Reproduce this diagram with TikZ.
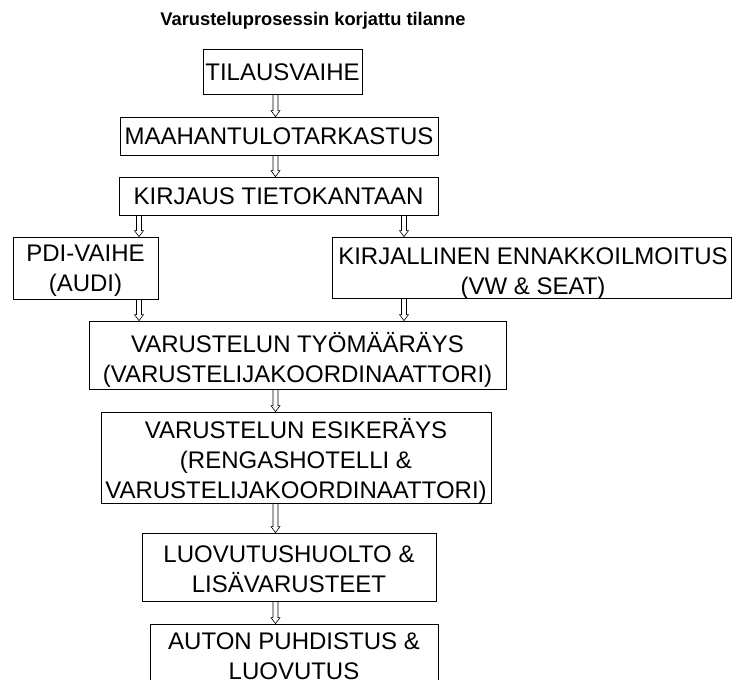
\documentclass[tikz,border=0pt]{standalone}
\usepackage{fontspec}
\setmainfont{Liberation Sans}
\usetikzlibrary{calc}
\tikzset{
  box/.style={draw=black, line width=0.8pt, rectangle, inner sep=0pt},
  txt/.style={inner sep=0pt, align=center, font=\fontsize{24}{30}\selectfont},
  hollow/.style={draw=black, line width=0.6pt,
    to path={let \p1=(\tikztostart), \p2=(\tikztotarget) in
      (\x1-2.5pt,\y1) -- (\x1-2.5pt,\y2+6pt) -- (\x1-4.5pt,\y2+6pt) -- (\x1,\y2)
      -- (\x1+4.5pt,\y2+6pt) -- (\x1+2.5pt,\y2+6pt) -- (\x1+2.5pt,\y1)}},
  titlestyle/.style={font=\fontsize{18.3}{22}\selectfont\bfseries, inner sep=0pt}
}
\begin{document}
\begin{tikzpicture}[x=1pt, y=-1pt]
\clip (0,0) rectangle (732,680);
\fill[white] (0,0) rectangle (732,680);
\node[titlestyle, anchor=base] (title) at (313,26) {Varusteluprosessin korjattu tilanne};
% boxes
\node[box, minimum width=159pt, minimum height=45pt] (tilaus) at (282.5,71.5) {};
\node[box, minimum width=318pt, minimum height=38pt] (maah) at (279,136) {};
\node[box, minimum width=319pt, minimum height=38pt] (kirjaus) at (278.5,196) {};
\node[box, minimum width=145pt, minimum height=62pt] (pdi) at (85.5,268) {};
\node[box, minimum width=399pt, minimum height=61pt] (kirj) at (531.5,267.5) {};
\node[box, minimum width=417pt, minimum height=68pt] (tyo) at (297.5,355) {};
\node[box, minimum width=390pt, minimum height=91pt] (esik) at (296,457.5) {};
\node[box, minimum width=294pt, minimum height=68pt] (luov) at (289,567) {};
\node[box, minimum width=288pt, minimum height=70pt] (auton) at (294,659) {};
% texts
\node[txt] (tilaus-t) at (282.5,72.5) {TILAUSVAIHE};
\node[txt] (maah-t) at (279,136) {MAAHANTULOTARKASTUS};
\node[txt] (kirjaus-t) at (278.5,196.5) {KIRJAUS TIETOKANTAAN};
\node[txt] (pdi-t) at (85.5,271) {PDI-VAIHE\\(AUDI)};
\node[txt] (kirj-t) at (533,274) {KIRJALLINEN ENNAKKOILMOITUS\\(VW \& SEAT)};
\node[txt] (tyo-t) at (297.5,360) {VARUSTELUN TYÖMÄÄRÄYS\\(VARUSTELIJAKOORDINAATTORI)};
\node[txt] (esik-t) at (296,461) {VARUSTELUN ESIKERÄYS\\(RENGASHOTELLI \&\\VARUSTELIJAKOORDINAATTORI)};
\node[txt] (luov-t) at (289,569) {LUOVUTUSHUOLTO \&\\LISÄVARUSTEET};
\node[txt] (auton-t) at (294,656) {AUTON PUHDISTUS \&\\LUOVUTUS};
% connectors
\coordinate (xm) at (275.5,0);
\coordinate (xl) at (139,0);
\coordinate (xr) at (404,0);
\draw[hollow] (tilaus.south -| xm) to (maah.north -| xm);
\draw[hollow] (maah.south -| xm) to (kirjaus.north -| xm);
\draw[hollow] (kirjaus.south -| xl) to (pdi.north -| xl);
\draw[hollow] (kirjaus.south -| xr) to (kirj.north -| xr);
\draw[hollow] (pdi.south -| xl) to (tyo.north -| xl);
\draw[hollow] (kirj.south -| xr) to (tyo.north -| xr);
\draw[hollow] (tyo.south -| xm) to (esik.north -| xm);
\draw[hollow] (esik.south -| xm) to (luov.north -| xm);
\draw[hollow] (luov.south -| xm) to (auton.north -| xm);
\end{tikzpicture}
\end{document}
